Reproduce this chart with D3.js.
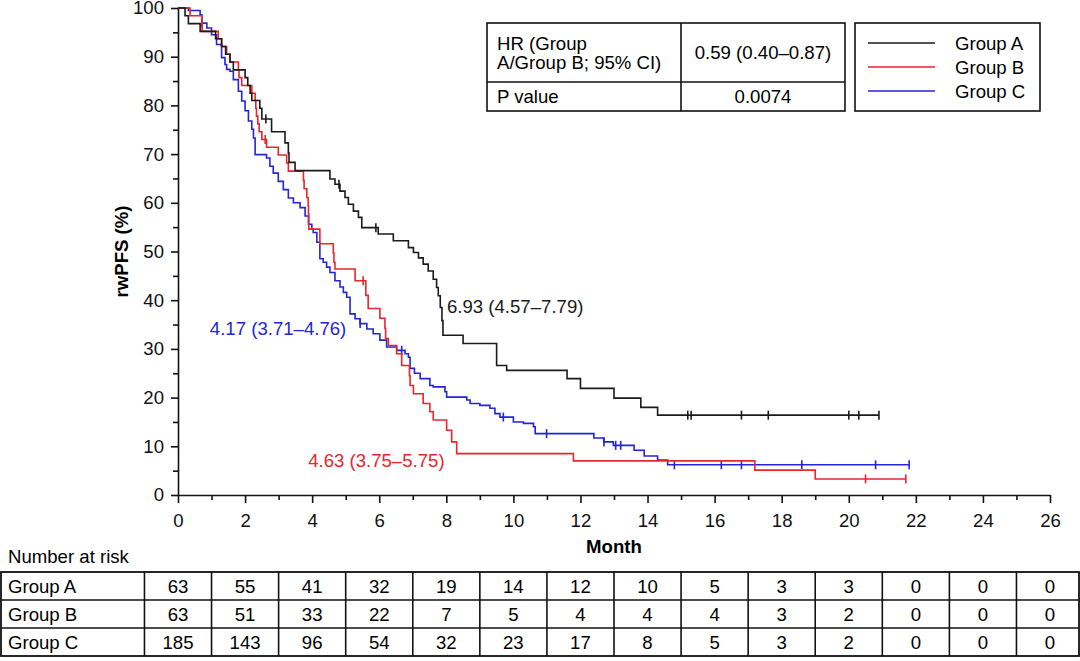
<!DOCTYPE html>
<html>
<head>
<meta charset="utf-8">
<script src="https://cdn.jsdelivr.net/npm/d3@7"></script>
<style>
body { margin: 0; background: #fff; }
text { font-family: "Liberation Sans", Arial, sans-serif; font-size: 18.6px; }
</style>
</head>
<body>
<svg id="chart" width="1080" height="661"></svg>
<script>
// KM steps: [month, survival % after the drop]
var eventsA = [[0.21,98.4],[0.31,96.8],[0.66,95.2],[1.12,93.7],[1.3,92.1],[1.42,90.5],[1.55,88.9],[1.65,87.3],
  [2.0,85.7],[2.08,84.1],[2.15,82.5],[2.2,81.0],[2.44,79.4],[2.5,77.2],[2.79,74.6],[3.19,72.3],[3.29,70.2],
  [3.31,68.3],[3.49,66.6],[4.53,64.9],[4.68,63.8],[4.83,62.4],[4.98,61.1],[5.08,59.7],[5.23,58.3],[5.38,57.0],
  [5.48,54.9],[5.97,53.6],[6.42,52.2],[6.87,50.8],[7.02,49.8],[7.17,48.7],[7.31,47.4],[7.46,46.0],[7.61,44.3],
  [7.71,42.6],[7.76,40.9],[7.82,38.5],[7.87,35.8],[7.9,32.8],[8.5,31.1],[9.5,26.6],[9.8,25.6],[11.6,23.9],
  [12.0,21.9],[13.0,19.9],[13.8,18.0],[14.3,16.4]];
var eventsB = [[0.36,98.4],[0.71,96.8],[0.72,95.2],[1.2,93.7],[1.3,92.1],[1.45,90.5],[1.55,88.9],[1.8,87.3],
  [1.82,85.7],[1.9,84.1],[2.2,82.5],[2.3,81.0],[2.32,79.4],[2.34,77.8],[2.38,76.2],[2.42,74.6],[2.5,73.0],
  [2.64,71.4],[2.99,69.8],[3.24,68.2],[3.29,66.5],[3.74,64.6],[3.76,62.9],[3.84,61.1],[3.88,59.4],[3.89,57.7],
  [3.9,54.6],[4.23,51.6],[4.63,49.7],[4.65,47.8],[4.68,46.4],[5.28,44.0],[5.6,41.0],[5.67,38.3],[6.02,36.3],
  [6.17,34.2],[6.19,32.1],[6.27,30.7],[6.52,29.0],[6.67,26.6],[6.9,24.5],[6.92,22.5],[7.02,20.8],[7.31,18.8],
  [7.51,17.1],[7.61,15.4],[8.01,13.3],[8.16,10.9],[8.31,8.5],[11.79,7.0],[17.2,5.1],[19.0,3.3]];
var eventsC = [[0.31,99.5],[0.66,98.6],[0.71,96.9],[0.86,95.9],[1.0,94.5],[1.15,92.5],[1.3,89.8],[1.4,88.4],
  [1.45,87.4],[1.55,87.0],[1.65,85.3],[1.8,82.9],[1.9,80.9],[2.0,78.9],[2.1,76.8],[2.2,75.1],[2.25,73.3],
  [2.3,69.9],[2.64,69.2],[2.74,67.5],[2.84,66.1],[2.99,64.4],[3.14,62.7],[3.29,61.0],[3.44,60.0],[3.64,59.0],
  [3.79,57.3],[3.89,55.6],[3.99,54.6],[4.03,53.9],[4.14,51.9],[4.23,48.5],[4.33,47.8],[4.43,46.8],[4.53,45.7],
  [4.68,44.0],[4.83,42.7],[4.93,41.6],[5.03,40.6],[5.13,37.2],[5.28,36.2],[5.43,35.2],[5.63,34.1],[5.82,33.1],
  [6.02,31.8],[6.22,30.4],[6.52,29.7],[6.77,29.0],[6.87,28.3],[6.92,26.0],[7.05,25.0],[7.22,23.9],[7.51,22.5],
  [7.61,22.2],[7.96,21.2],[8.01,20.1],[8.61,19.5],[8.71,18.8],[9.0,18.4],[9.3,17.8],[9.45,16.7],[9.6,16.0],
  [10.0,15.0],[10.3,14.7],[10.6,14.0],[10.65,12.6],[12.4,11.7],[12.7,10.9],[12.98,10.2],[13.6,9.2],[13.9,8.0],
  [14.3,7.2],[14.6,6.2]];

// censor marks (last one is the end of follow-up)
var censorA = [2.62, 4.8, 5.9, 15.2, 15.3, 16.8, 17.6, 20.0, 20.3, 20.9];
var censorB = [2.6, 5.52, 20.5, 21.7];
var censorC = [0.71, 5.43, 6.67, 9.7, 10.99, 12.7, 13.05, 13.2, 14.8, 16.2, 16.8, 18.6, 20.8, 21.8];

var groupNames = ["Group A", "Group B", "Group C"];
var colors = ["#1a1a1a", "#e8262c", "#2424d8"];
var medianLabels = ["6.93 (4.57\u20137.79)", "4.63 (3.75\u20135.75)", "4.17 (3.71\u20134.76)"];
var medianPos = [[8.02, 38.7], [3.88, 7.0], [0.95, 34.2]];

var riskMonths = d3.range(0, 27, 2);
var riskA = [63, 55, 41, 32, 19, 14, 12, 10, 5, 3, 3, 0, 0, 0];
var riskB = [63, 51, 33, 22, 7, 5, 4, 4, 4, 3, 2, 0, 0, 0];
var riskC = [185, 143, 96, 54, 32, 23, 17, 8, 5, 3, 2, 0, 0, 0];

var hrRows = [["HR (Group", "A/Group B; 95% CI)"], ["P value"]];
var hrValues = ["0.59 (0.40\u20130.87)", "0.0074"];

var svg = d3.select("#chart");
var x = d3.scaleLinear().domain([0, 26]).range([178, 1050]);
var y = d3.scaleLinear().domain([0, 100]).range([495, 8]);

// axes
var yAxis = svg.append("g").attr("transform", "translate(" + x(0) + ",0)")
  .call(d3.axisLeft(y).tickValues(d3.range(0, 101, 5)).tickSize(7).tickSizeOuter(0).tickPadding(7)
    .tickFormat(function(d) { return d % 10 === 0 ? d : ""; }));
var xAxis = svg.append("g").attr("transform", "translate(0," + y(0) + ")")
  .call(d3.axisBottom(x).tickValues(d3.range(0, 27, 1)).tickSize(8).tickSizeOuter(0).tickPadding(11)
    .tickFormat(function(d) { return d % 2 === 0 ? d : ""; }));
xAxis.selectAll(".tick line").attr("y2", function(d) { return d % 2 === 0 ? 8 : 5; });
yAxis.selectAll(".tick line").attr("x2", function(d) { return d % 10 === 0 ? -7 : -5; });
svg.selectAll(".domain, .tick line").attr("stroke", "#111").attr("stroke-width", 1.6);
svg.selectAll(".tick text").style("font-size", "18.6px").attr("fill", "#111");

svg.append("text").attr("x", x(13)).attr("y", 553).attr("text-anchor", "middle")
  .style("font-weight", "bold").text("Month");
svg.append("text").attr("transform", "translate(128," + y(50) + ") rotate(-90)")
  .attr("text-anchor", "middle").style("font-weight", "bold").text("rwPFS (%)");

// curves
var allEvents = [eventsA, eventsB, eventsC];
var allCensor = [censorA, censorB, censorC];
var line = d3.line().curve(d3.curveStepAfter).x(function(d) { return x(d[0]); }).y(function(d) { return y(d[1]); });

function survAt(ev, t) {
  var s = 100;
  ev.forEach(function(e) { if (e[0] <= t) s = e[1]; });
  return s;
}

[2, 1, 0].forEach(function(g) {
  var ev = allEvents[g];
  var end = d3.max(allCensor[g]);
  var pts = [[0, 100]].concat(ev).concat([[end, ev[ev.length - 1][1]]]);
  svg.append("path").attr("d", line(pts)).attr("fill", "none")
    .attr("stroke", colors[g]).attr("stroke-width", 1.6);
  svg.selectAll(".cens" + g).data(allCensor[g]).enter().append("line")
    .attr("x1", function(d) { return x(d); }).attr("x2", function(d) { return x(d); })
    .attr("y1", function(d) { return y(survAt(ev, d)) - 4.5; })
    .attr("y2", function(d) { return y(survAt(ev, d)) + 4.5; })
    .attr("stroke", colors[g]).attr("stroke-width", 1.6);
});

medianLabels.forEach(function(lbl, g) {
  svg.append("text").attr("x", x(medianPos[g][0])).attr("y", y(medianPos[g][1]))
    .attr("dy", "0.35em").attr("fill", colors[g]).text(lbl);
});

// HR table
var hr = svg.append("g");
hr.append("rect").attr("x", 487).attr("y", 23).attr("width", 358).attr("height", 88)
  .attr("fill", "#fff").attr("stroke", "#111").attr("stroke-width", 1.6);
hr.append("line").attr("x1", 681).attr("x2", 681).attr("y1", 23).attr("y2", 111).attr("stroke", "#111").attr("stroke-width", 1.6);
hr.append("line").attr("x1", 487).attr("x2", 845).attr("y1", 82).attr("y2", 82).attr("stroke", "#111").attr("stroke-width", 1.6);
var rowMid = [52.5, 96.5];
hrRows.forEach(function(r, i) {
  r.forEach(function(t, j) {
    svg.append("text").attr("x", 497).attr("y", rowMid[i] + (j - (r.length - 1) / 2) * 19)
      .attr("dy", "0.35em").text(t);
  });
  svg.append("text").attr("x", 763).attr("y", rowMid[i]).attr("dy", "0.35em")
    .attr("text-anchor", "middle").text(hrValues[i]);
});

// legend
var lg = svg.append("g");
lg.append("rect").attr("x", 855).attr("y", 23).attr("width", 185).attr("height", 88)
  .attr("fill", "#fff").attr("stroke", "#111").attr("stroke-width", 1.6);
groupNames.forEach(function(n, i) {
  var ly = 43 + i * 24;
  lg.append("line").attr("x1", 868).attr("x2", 935).attr("y1", ly).attr("y2", ly)
    .attr("stroke", colors[i]).attr("stroke-width", 1.4);
  lg.append("text").attr("x", 955).attr("y", ly).attr("dy", "0.35em").text(n);
});

// number at risk table
svg.append("text").attr("x", 8).attr("y", 556).attr("dy", "0.35em").text("Number at risk");
var allRisk = [riskA, riskB, riskC];
var tTop = 572, rowH = 28;
var colEdge = riskMonths.map(function(m) { return x(m - 1); }).concat([1079]);
var tbl = svg.append("g");
tbl.append("rect").attr("x", 1).attr("y", tTop).attr("width", 1078).attr("height", rowH * 3)
  .attr("fill", "none").attr("stroke", "#111").attr("stroke-width", 1.8);
[1, 2].forEach(function(r) {
  tbl.append("line").attr("x1", 1).attr("x2", 1079).attr("y1", tTop + r * rowH).attr("y2", tTop + r * rowH)
    .attr("stroke", "#111").attr("stroke-width", 1.6);
});
colEdge.slice(0, -1).forEach(function(cx) {
  tbl.append("line").attr("x1", cx).attr("x2", cx).attr("y1", tTop).attr("y2", tTop + rowH * 3)
    .attr("stroke", "#111").attr("stroke-width", 1.6);
});
allRisk.forEach(function(vals, r) {
  var cy = tTop + r * rowH + rowH / 2;
  tbl.append("text").attr("x", 8).attr("y", cy).attr("dy", "0.35em").text(groupNames[r]);
  tbl.selectAll(".risk" + r).data(vals).enter().append("text")
    .attr("x", function(d, i) { return x(riskMonths[i]); }).attr("y", cy).attr("dy", "0.35em")
    .attr("text-anchor", "middle").text(function(d) { return d; });
});
</script>
</body>
</html>
